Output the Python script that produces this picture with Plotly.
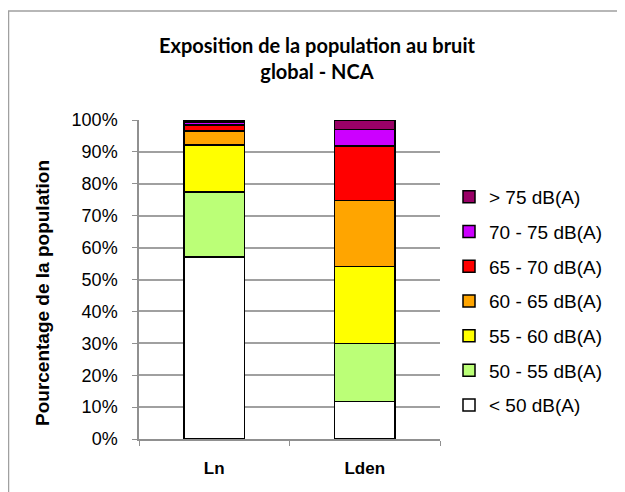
import plotly.graph_objects as go

categories = ["Ln", "Lden"]
series_names = ["< 50 dB(A)", "50 - 55 dB(A)", "55 - 60 dB(A)", "60 - 65 dB(A)",
                "65 - 70 dB(A)", "70 - 75 dB(A)", "> 75 dB(A)"]
lt50 = [57.0, 11.7]
s50_55 = [20.4, 18.3]
s55_60 = [14.7, 24.1]
s60_65 = [4.5, 20.7]
s65_70 = [1.8, 17.0]
s70_75 = [0.9, 5.3]
gt75 = [0.7, 2.9]
series_values = [lt50, s50_55, s55_60, s60_65, s65_70, s70_75, gt75]
colors = ["#FFFFFF", "#BBFF77", "#FFFF00", "#FFA500", "#FF0000", "#CC00FF", "#990066"]
y_tick_vals = [0, 10, 20, 30, 40, 50, 60, 70, 80, 90, 100]
y_tick_text = [f"{v}%" for v in y_tick_vals]

fig = go.Figure()
n = len(series_names)
for i, (name, vals, col) in enumerate(zip(series_names, series_values, colors)):
    fig.add_trace(go.Bar(
        x=categories, y=vals, name=name, legendgroup=name, legendrank=n - i,
        marker=dict(color=col, line=dict(color="black", width=1.5)),
    ))

# page has an 8px body margin
OFF = 8
W, H = 625 - OFF, 492 - OFF
L = 139 - OFF
R = W - (440 - OFF)
T = 120 - OFF
B = H - (439 - OFF)
pw = W - L - R
ph = H - T - B

def px_x(p):
    return (p - OFF - L) / pw

def px_y(p):
    return (H - B - (p - OFF)) / ph

fig.update_layout(
    width=W, height=H,
    margin=dict(l=L, r=R, t=T, b=B, autoexpand=False),
    paper_bgcolor="white", plot_bgcolor="white",
    barmode="stack", bargap=0.6,
    font=dict(family="Liberation Sans, Arial, sans-serif", color="black", size=18),
    showlegend=True,
    legend=dict(
        traceorder="grouped", tracegroupgap=7,
        x=px_x(449), xanchor="left", y=px_y(178), yanchor="top",
        font=dict(size=19), bgcolor="rgba(0,0,0,0)",
    ),
    xaxis=dict(
        showline=True, linecolor="#909090", linewidth=1.5,
        ticks="outside", tickson="boundaries", ticklen=5, tickcolor="#909090",
        tickfont=dict(size=17, weight="bold"), ticklabelstandoff=13,
        showgrid=False,
    ),
    yaxis=dict(
        range=[0, 100], tickvals=y_tick_vals, ticktext=y_tick_text,
        showline=True, linecolor="#909090", linewidth=1.5,
        ticks="outside", ticklen=5, tickcolor="#909090",
        showgrid=True, gridcolor="#A0A0A0", gridwidth=1.5,
        tickfont=dict(size=18), ticklabelstandoff=11,
    ),
    annotations=[
        dict(
            text="<b>Exposition de la population au bruit<br>global - NCA</b>",
            x=px_x(317), y=px_y(58), xref="paper", yref="paper",
            xanchor="center", yanchor="middle", showarrow=False,
            font=dict(family="Lato, sans-serif", size=20, color="black"),
        ),
        dict(
            text="<b>Pourcentage de la population</b>",
            x=px_x(42), y=px_y(293), xref="paper", yref="paper",
            xanchor="center", yanchor="middle", showarrow=False, textangle=-90,
            font=dict(size=19, color="black"),
        ),
    ],
    shapes=[dict(
        type="rect", xref="paper", yref="paper",
        x0=px_x(8.5), x1=px_x(700), y0=px_y(600), y1=px_y(11),
        line=dict(color="#A0A0A0", width=1.5), fillcolor="rgba(0,0,0,0)", layer="below",
    )],
)

fig.write_html("out.html")
